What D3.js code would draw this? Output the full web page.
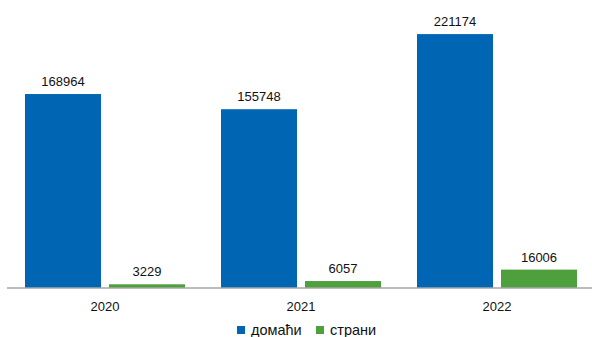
<!DOCTYPE html>
<html><head><meta charset="utf-8">
<script src="https://cdn.jsdelivr.net/npm/d3@7"></script>
<style>body{margin:0;background:#fff}svg{display:block}</style>
</head><body>
<script>
const categories = ["2020", "2021", "2022"];
const seriesNames = ["домаћи", "страни"];
const domestic = [168964, 155748, 221174];
const foreign = [3229, 6057, 16006];
const colors = ["#0066b3", "#4ea03c"];

const W = 592, H = 337;
const svg = d3.select("body").append("svg").attr("width", W).attr("height", H);
const font = "'Liberation Sans', Arial, sans-serif";

const x0 = d3.scaleBand().domain(categories).range([7, 595]).paddingInner(0).paddingOuter(0);
const x1 = d3.scaleBand().domain(seriesNames).range([18, 178]).paddingInner(8 / 84);
const y = d3.scaleLinear().domain([0, 250000]).range([288, 1]);

const data = categories.map((c, i) => ({cat: c, vals: [domestic[i], foreign[i]]}));

const g = svg.append("g");
data.forEach(d => {
  d.vals.forEach((v, j) => {
    const bx = x0(d.cat) + x1(seriesNames[j]);
    g.append("rect").attr("x", bx).attr("y", y(v))
      .attr("width", x1.bandwidth()).attr("height", y(0) - y(v))
      .attr("fill", colors[j]);
    g.append("text").attr("x", bx + x1.bandwidth() / 2).attr("y", y(v) - 8)
      .attr("text-anchor", "middle").attr("font-family", font).attr("font-size", 13)
      .attr("fill", "#111").text(v);
  });
});

// axis
const axis = svg.append("g").attr("transform", "translate(0,288)")
  .call(d3.axisBottom(x0).tickSize(0).tickPadding(14));
axis.select(".domain").attr("stroke", "#a6a6a6").attr("stroke-width", 1.5).attr("d", "M7,0H592");
axis.selectAll("text").attr("font-family", font).attr("font-size", 13).attr("fill", "#111");

// legend
const legX = [237, 316];
seriesNames.forEach((s, j) => {
  svg.append("rect").attr("x", legX[j]).attr("y", 326).attr("width", 8).attr("height", 8).attr("fill", colors[j]);
  svg.append("text").attr("x", legX[j] + 14).attr("y", 335).attr("font-family", font)
    .attr("font-size", 14.5).attr("fill", "#111").text(s);
});
</script>
</body></html>
